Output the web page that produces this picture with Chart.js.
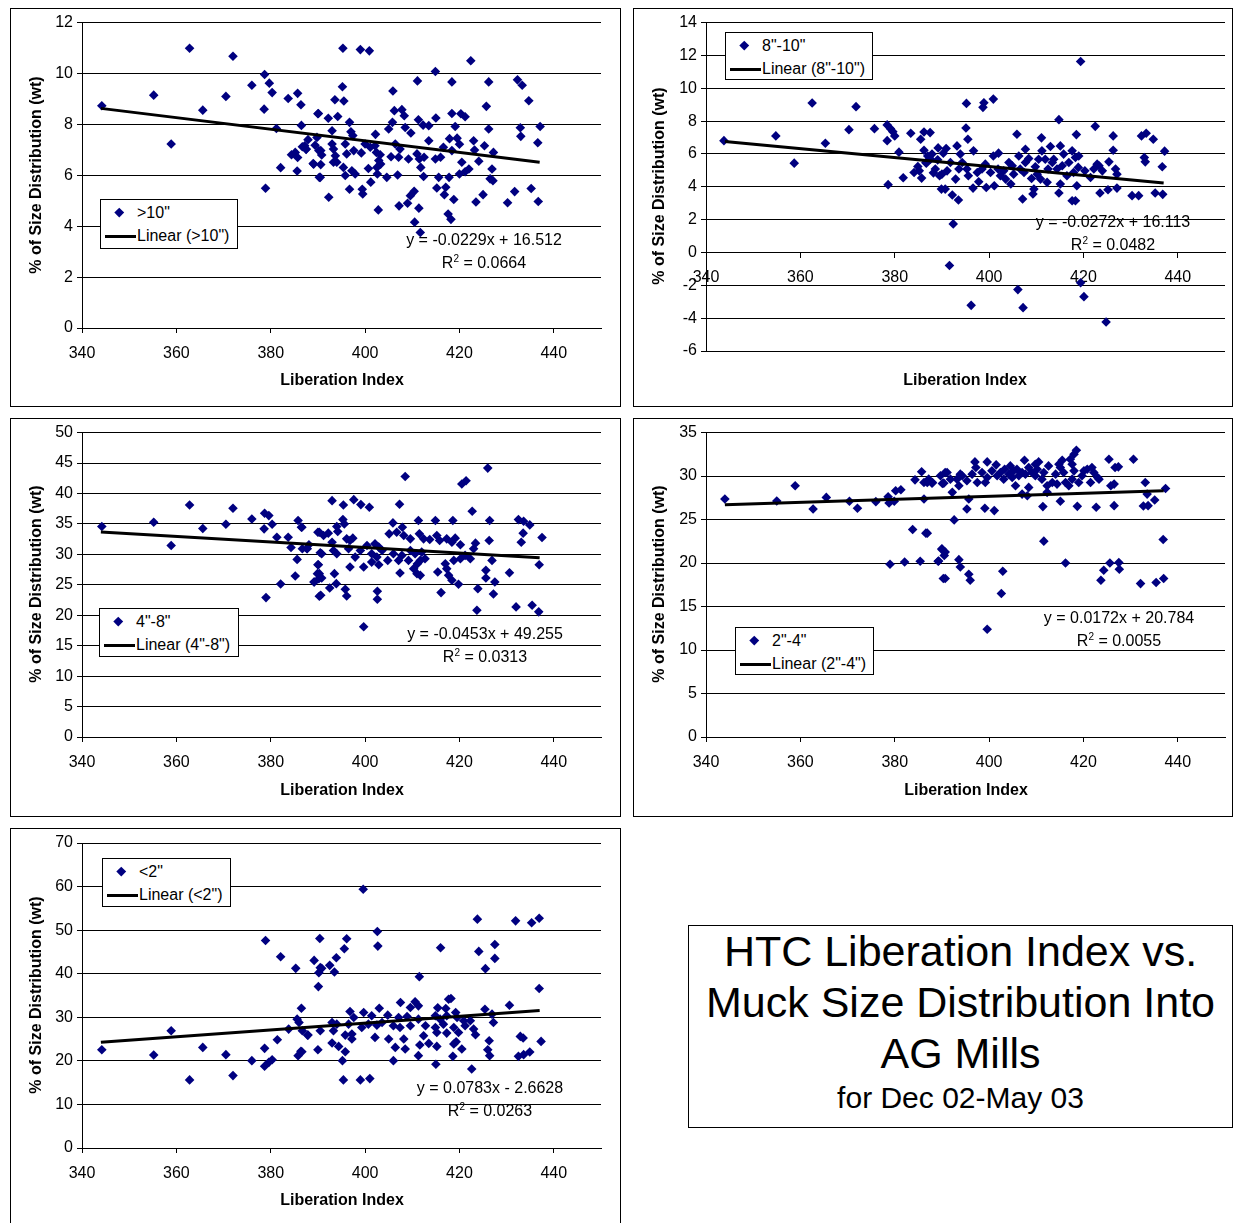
<!DOCTYPE html>
<html>
<head>
<meta charset="utf-8">
<script src="https://cdn.jsdelivr.net/npm/chart.js@4/dist/chart.umd.min.js"></script>
<style>
  body { margin: 0; width: 1233px; height: 1223px; background: #fff; position: relative; overflow: hidden;
         font-family: "Liberation Sans", Arial, sans-serif; color: #000; }
  .panel { position: absolute; border: 1px solid #000; }
  .panel canvas { display: block; }
  .xtitle, .ytitle { position: absolute; font-weight: bold; font-size: 16px; white-space: nowrap; }
  .xtitle { transform: translate(-50%, -50%); }
  .ytitle { transform: translate(-50%, -50%) rotate(-90deg); }
  .eq { position: absolute; transform: translateX(-50%); text-align: center; font-size: 16px;
        line-height: 23px; white-space: nowrap; }
  .eq sup { font-size: 10px; line-height: 0; vertical-align: 6px; }
  .legend { position: absolute; border: 1px solid #000; background: #fff; font-size: 16px; box-sizing: border-box; }
  .legend .row { position: relative; height: 23px; line-height: 23px; padding-left: 36px; white-space: nowrap; }
  .legend .row:first-child { margin-top: 1px; }
  .legend .dot { position: absolute; left: 15px; top: 8px; width: 6.5px; height: 6.5px; background: #000080; transform: rotate(45deg); }
  .legend .line { position: absolute; left: 4px; top: 11px; width: 31px; height: 3px; background: #000; }
  .titlebox { position: absolute; left: 688px; top: 925px; width: 543px; height: 201px; border: 1px solid #000; text-align: center; }
  .titlebox .big { font-size: 43px; line-height: 51px; }
  .titlebox .small { font-size: 30px; line-height: 38px; }
</style>
</head>
<body>

<div class="panel" style="left:10px;top:8px;"><canvas id="c1" width="609" height="397"></canvas></div>
<div class="panel" style="left:633px;top:8px;"><canvas id="c2" width="598" height="397"></canvas></div>
<div class="panel" style="left:10px;top:418px;"><canvas id="c3" width="609" height="397"></canvas></div>
<div class="panel" style="left:633px;top:418px;"><canvas id="c4" width="598" height="397"></canvas></div>
<div class="panel" style="left:10px;top:828px;"><canvas id="c5" width="609" height="397"></canvas></div>

<div class="xtitle" style="left:342px;top:380px;">Liberation Index</div>
<div class="xtitle" style="left:965px;top:380px;">Liberation Index</div>
<div class="xtitle" style="left:342px;top:790px;">Liberation Index</div>
<div class="xtitle" style="left:966px;top:790px;">Liberation Index</div>
<div class="xtitle" style="left:342px;top:1200px;">Liberation Index</div>

<div class="ytitle" style="left:36px;top:175px;">% of Size Distribution (wt)</div>
<div class="ytitle" style="left:659px;top:186px;">% of Size Distribution (wt)</div>
<div class="ytitle" style="left:36px;top:584px;">% of Size Distribution (wt)</div>
<div class="ytitle" style="left:659px;top:584px;">% of Size Distribution (wt)</div>
<div class="ytitle" style="left:36px;top:995px;">% of Size Distribution (wt)</div>

<div class="legend" style="left:100px;top:199px;width:138px;height:50px;">
  <div class="row"><span class="dot"></span>&gt;10"</div>
  <div class="row"><span class="line"></span>Linear (&gt;10")</div>
</div>
<div class="legend" style="left:725px;top:32px;width:148px;height:48px;">
  <div class="row"><span class="dot"></span>8"-10"</div>
  <div class="row"><span class="line"></span>Linear (8"-10")</div>
</div>
<div class="legend" style="left:99px;top:608px;width:140px;height:49px;">
  <div class="row"><span class="dot"></span>4"-8"</div>
  <div class="row"><span class="line"></span>Linear (4"-8")</div>
</div>
<div class="legend" style="left:735px;top:627px;width:139px;height:48px;">
  <div class="row"><span class="dot"></span>2"-4"</div>
  <div class="row"><span class="line"></span>Linear (2"-4")</div>
</div>
<div class="legend" style="left:102px;top:858px;width:129px;height:49px;">
  <div class="row"><span class="dot"></span>&lt;2"</div>
  <div class="row"><span class="line"></span>Linear (&lt;2")</div>
</div>

<div class="eq" style="left:484px;top:228px;">y = -0.0229x + 16.512<br>R<sup>2</sup> = 0.0664</div>
<div class="eq" style="left:1113px;top:210px;">y = -0.0272x + 16.113<br>R<sup>2</sup> = 0.0482</div>
<div class="eq" style="left:485px;top:622px;">y = -0.0453x + 49.255<br>R<sup>2</sup> = 0.0313</div>
<div class="eq" style="left:1119px;top:606px;">y = 0.0172x + 20.784<br>R<sup>2</sup> = 0.0055</div>
<div class="eq" style="left:490px;top:1076px;">y = 0.0783x - 2.6628<br>R<sup>2</sup> = 0.0263</div>

<div class="titlebox">
  <div class="big">HTC Liberation Index vs.</div>
  <div class="big">Muck Size Distribution Into</div>
  <div class="big">AG Mills</div>
  <div class="small">for Dec 02-May 03</div>
</div>

<script>
// x axis (Liberation Index)
const xTicks = [340, 360, 380, 400, 420, 440];
const xMax = 450;
const trendX = [344, 437];

// >10"
const gt10Ticks = [0, 2, 4, 6, 8, 10, 12];
const gt10Trend = [8.63, 6.51];
const gt10Points = [
  [344.2,8.73],[355.2,9.15],[358.9,7.23],[362.8,10.99],[365.6,8.56],[370.5,9.1],[372.0,10.68],[376.0,9.54],
  [378.7,9.96],[379.7,9.62],[380.3,9.25],[378.6,8.6],[378.9,5.49],[381.2,7.84],[382.1,6.3],[383.7,9.02],
  [384.4,6.81],[385.2,6.9],[385.7,9.22],[385.7,6.7],[385.6,6.17],[386.4,8.77],[386.5,7.96],[386.7,7.12],
  [387.5,7.03],[387.9,7.4],[389.0,6.46],[390.0,8.42],[389.8,7.49],[390.2,6.97],[390.3,5.92],
  [395.3,10.99],[399.0,10.94],[400.9,10.89],[422.4,10.5],[414.9,10.08],[411.1,9.71],[418.4,9.67],[426.2,9.67],
  [432.3,9.75],[433.3,9.54],[434.7,8.93],[425.7,8.71],[395.2,9.48],[393.6,8.97],[395.5,8.92],[405.9,9.31],
  [390.1,8.43],[392.2,8.24],[394.2,8.31],[396.7,8.08],[406.2,8.54],[407.8,8.58],[408.3,8.34],[405.8,8.08],
  [411.3,8.18],[412.3,7.97],[413.5,7.95],[415.0,8.25],[418.4,8.43],[420.3,8.42],[421.2,8.3],[419.1,7.92],
  [426.2,7.82],[432.9,7.87],[437.1,7.92],[433.0,7.53],[436.6,7.28],[393.0,7.75],[397.0,7.71],[397.4,7.56],
  [402.2,7.61],[405.0,7.82],[408.5,7.88],[409.7,7.66],[413.5,7.36],[417.9,7.44],[419.5,7.46],[420.0,7.22],
  [423.0,7.36],[425.3,7.16],[423.2,6.99],[427.2,6.9],[387.2,7.16],[387.5,7.02],[389.4,7.18],[390.6,6.97],
  [390.8,6.8],[393.0,7.23],[393.3,7.03],[393.7,6.77],[393.3,6.51],[394.0,6.51],[389.1,6.44],[390.6,6.42],
  [390.5,5.92],[395.4,6.31],[396.1,6.84],[395.8,7.23],[397.6,6.97],[399.2,6.88],[400.0,7.23],[401.1,7.1],
  [402.1,7.16],[403.2,6.81],[402.4,6.9],[402.9,6.58],[403.3,6.44],[402.5,6.31],[400.7,6.27],[397.2,6.18],
  [397.9,6.05],[395.8,5.99],[404.6,5.92],[402.6,6.05],[401.2,5.73],[405.5,6.73],[407.1,6.71],[406.4,7.23],
  [407.4,7.03],[409.2,6.64],[411.0,6.84],[411.5,6.64],[412.5,6.71],[411.8,6.31],[412.4,5.95],[406.9,6.01],
  [414.9,6.64],[416.0,6.71],[416.6,7.1],[418.4,6.97],[420.5,6.51],[422.0,6.25],[421.2,6.14],[420.0,6.05],
  [424.1,6.55],[426.9,6.25],[426.5,5.86],[427.1,5.79],[415.6,5.92],[417.8,5.92],[415.2,5.5],[417.1,5.53],
  [416.8,5.24],[418.8,5.05],[425.0,5.24],[423.5,4.95],[430.2,4.92],[431.7,5.36],[435.2,5.48],[436.7,4.97],
  [392.3,5.14],[396.7,5.45],[399.4,5.45],[399.5,5.27],[402.8,4.64],[407.2,4.8],[409.0,4.9],[409.6,5.2],
  [410.4,5.37],[411.4,4.71],[410.5,4.16],[411.7,3.75],[417.6,4.48],[418.2,4.27]
];

// 8"-10"
const r8to10Ticks = [-6, -4, -2, 0, 2, 4, 6, 8, 10, 12, 14];
const r8to10Trend = [6.76, 4.23];
const r8to10Points = [
  [343.8,6.81],[354.8,7.1],[358.7,5.44],[362.5,9.1],[365.3,6.65],[370.3,7.48],[371.8,8.88],[375.7,7.54],
  [378.4,7.77],[379.1,7.54],[379.6,7.36],[380.0,7.1],[378.4,6.81],[378.6,4.13],[380.9,6.11],[381.8,4.55],
  [383.4,7.26],[384.1,4.87],[384.9,5.24],[385.5,6.9],[386.2,7.34],[386.2,6.23],[386.6,5.48],[385.7,4.53],
  [385.2,4.97],[387.0,5.88],[386.7,5.44],[388.2,4.85],[389.2,6.37],[389.1,5.64],[389.5,4.67],[389.9,3.86],
  [419.4,11.63],[395.2,9.08],[398.9,9.12],[398.7,8.84],[400.9,9.34],[395.1,7.58],[395.5,6.9],[414.8,8.09],
  [422.5,7.68],[405.9,7.2],[411.1,6.98],[418.5,7.18],[426.3,7.1],[426.3,6.23],[432.3,7.1],[433.3,7.26],
  [434.8,6.9],[437.2,6.17],[432.9,5.78],[433.1,5.52],[436.7,5.22],[425.4,5.52],[426.8,5.08],[427.1,4.77],
  [427.1,3.92],[425.2,3.82],[423.5,3.62],[430.3,3.46],[431.7,3.46],[435.2,3.62],[436.8,3.54],[392.4,1.74],
  [391.6,-0.79],[396.2,-3.22],[406.1,-2.26],[407.2,-3.36],[419.4,-1.84],[420.1,-2.69],[424.8,-4.23],
  [393.2,6.49],[390.9,6.33],[387.5,7.3],[390.7,3.86],[392.2,3.5],[393.5,3.2],[392.9,4.47],[393.6,5.08],
  [393.9,5.99],[396.7,6.19],[396.6,3.92],[397.8,4.31],[399.4,3.96],[399.2,5.38],[400.9,5.88],[402.0,6.05],
  [401.9,5.08],[402.4,4.67],[403.5,4.47],[404.6,4.17],[401.1,4.06],[404.9,5.28],[406.3,5.88],[407.7,6.29],
  [408.4,5.72],[407.4,4.87],[409.0,4.51],[409.5,3.86],[409.3,3.56],[407.1,3.26],[409.8,5.22],[411.2,6.19],
  [411.9,5.68],[413.0,6.45],[413.7,5.68],[412.3,4.27],[410.9,4.47],[415.1,6.49],[415.8,5.99],[415.5,5.28],
  [415.1,4.17],[414.8,3.62],[417.6,6.19],[418.3,5.78],[419.0,5.88],[417.9,4.87],[418.6,4.06],[417.6,3.15],
  [418.3,3.15],[420.3,4.97],[421.5,4.57],[423.3,5.28],[424.0,4.97],[387.6,5.68],[388.6,5.08],[390.0,4.77],
  [391.1,4.97],[391.8,5.48],[394.3,5.48],[395.3,5.08],[395.6,4.67],[397.5,4.87],[398.5,5.08],[400.3,4.87],
  [403.1,4.97],[404.2,5.48],[405.2,4.77],[406.6,5.08],[407.7,5.48],[410.2,4.77],[410.5,5.68],[412.5,5.08],
  [413.4,5.48],[414.4,5.08],[416.5,4.67],[416.9,5.48],[418.9,5.18],[422.2,5.08],[422.9,5.38],[387.9,5.99],
  [390.3,6.05]
];

// 4"-8"
const r4to8Ticks = [0, 5, 10, 15, 20, 25, 30, 35, 40, 45, 50];
const r4to8Trend = [33.67, 29.46];
const r4to8Points = [
  [344.2,34.57],[355.2,35.28],[358.9,31.46],[362.8,38.11],[365.6,34.24],[370.5,34.95],[372.0,37.57],[376.0,35.82],
  [378.7,36.75],[379.6,36.37],[380.3,34.95],[378.6,34.19],[379.0,22.9],[381.3,32.82],[382.1,25.14],[383.7,32.82],
  [384.3,31.13],[385.2,26.44],[385.6,29.17],[385.8,35.55],[386.5,34.46],[386.7,30.92],[387.7,30.92],[388.1,31.57],
  [389.2,25.46],[390.0,33.64],[390.0,28.3],[389.9,26.83],[390.2,26.01],[390.3,23.12],[390.8,30.1],
  [426.0,44.17],[408.5,42.8],[420.5,41.55],[421.4,42.09],[393.0,38.82],[395.4,38.11],[397.6,38.99],[399.1,38.17],
  [400.9,37.73],[407.3,38.22],[422.7,37.08],[395.3,35.71],[395.6,35.0],[394.0,34.57],[390.3,33.64],[391.2,33.1],
  [392.2,33.48],[394.2,33.75],[386.6,34.46],[405.9,35.17],[407.9,34.46],[411.3,35.55],[414.9,35.55],[418.6,35.55],
  [426.4,35.55],[432.5,35.71],[433.6,35.44],[434.9,34.84],[433.5,33.48],[437.5,32.77],[433.1,32.0],[426.3,32.28],
  [405.1,33.37],[406.7,33.64],[408.2,33.1],[409.6,32.55],[411.5,33.37],[412.4,32.55],[413.7,32.44],[415.2,33.1],
  [415.8,32.28],[417.3,32.55],[418.4,32.0],[419.1,32.66],[420.2,31.57],[423.4,31.84],[423.0,30.92],[396.1,32.55],
  [396.8,32.28],[397.4,32.66],[393.0,32.0],[393.3,30.64],[394.0,30.1],[387.7,30.92],[396.5,30.92],[397.9,29.55],
  [399.0,30.64],[400.4,31.46],[402.1,31.73],[402.9,31.19],[403.6,30.64],[401.4,30.1],[402.5,29.55],[404.8,29.01],
  [406.0,30.1],[407.1,29.01],[407.8,29.83],[409.2,29.01],[409.6,30.64],[410.6,30.1],[412.0,30.37],[411.7,29.01],
  [412.7,29.28],[411.1,28.46],[410.3,27.65],[411.0,26.83],[411.7,26.55],[407.4,26.94],[401.4,28.73],[402.9,28.3],
  [399.7,27.92],[396.8,27.92],[390.5,30.26],[390.1,28.3],[390.3,26.83],[390.8,26.12],[389.2,25.46],[393.5,26.83],
  [393.9,25.19],[392.5,24.48],[390.6,23.28],[395.8,24.26],[396.1,23.17],[402.6,23.94],[402.6,22.63],[399.7,18.1],
  [415.4,27.1],[416.1,23.72],[417.0,28.46],[417.3,27.65],[417.7,26.55],[418.4,25.74],[419.8,25.08],[418.8,29.01],
  [420.2,29.28],[421.2,29.83],[422.3,29.28],[423.9,24.37],[423.7,20.83],[425.6,27.37],[425.6,26.12],[426.9,29.01],
  [427.5,25.46],[427.2,23.5],[430.6,26.99],[432.0,21.37],[435.4,21.65],[436.8,20.56],[436.9,28.3]
];

// 2"-4"
const r2to4Ticks = [0, 5, 10, 15, 20, 25, 30, 35];
const r2to4Trend = [26.7, 28.3];
const r2to4Points = [
  [344.0,27.36],[355.0,27.13],[358.9,28.89],[362.7,26.22],[365.5,27.55],[370.4,27.1],[372.1,26.3],[376.0,27.06],
  [378.6,27.63],[378.8,26.91],[379.9,27.1],[380.2,28.32],[381.3,28.43],[379.0,19.86],[382.1,20.12],[383.8,23.86],
  [385.4,20.2],[386.6,23.44],[384.3,29.57],[385.7,30.49],[386.2,29.27],[386.9,29.27],[388.0,29.27],[386.2,27.36],
  [389.2,20.2],[390.0,21.65],[390.3,18.22],[390.1,29.15],[390.7,30.41],[390.5,20.88],
  [418.5,32.97],[430.6,31.94],[425.4,31.94],[426.7,30.98],[427.4,31.06],[407.5,31.82],[399.6,31.63],[397.0,31.63],
  [410.5,31.63],[415.5,31.82],[417.2,31.94],[401.5,31.29],[397.2,30.98],[412.6,31.17],[415.1,30.98],[420.8,30.79],
  [421.8,30.98],[403.3,30.79],[405.2,30.6],[407.0,30.41],[409.1,30.41],[393.9,30.22],[391.1,30.41],
  [387.9,29.19],[390.4,29.19],[393.2,29.65],[395.3,29.46],[397.5,29.27],[399.6,29.84],[401.7,30.03],[403.1,29.65],
  [404.9,29.84],[406.3,30.03],[407.7,30.22],[409.8,30.03],[411.2,29.65],[413.4,29.27],[414.4,29.08],[416.2,29.27],
  [417.6,29.65],[419.0,29.27],[419.7,30.03],[421.5,29.27],[423.3,29.65],[425.8,28.89],[426.5,29.08],[433.1,29.27],
  [433.5,27.93],[437.4,28.58],[387.2,29.65],[389.7,30.03],[391.8,29.65],[394.3,30.03],[396.4,30.22],[398.5,30.41],
  [400.6,30.6],[402.4,30.41],[404.2,30.22],[405.9,30.79],[408.4,30.98],[410.2,30.79],[411.6,30.41],[414.1,30.22],
  [415.8,30.41],[418.0,30.6],[420.1,30.6],[422.2,30.41],[423.0,29.84],[409.8,31.36],[404.5,31.17],[417.6,31.36],
  [418.0,32.51],[414.8,31.36],[399.2,29.27],[408.4,28.7],[393.6,28.89],[412.3,28.89],[416.9,28.89],
  [392.2,28.13],[395.7,27.36],[395.3,26.22],[399.1,26.3],[401.1,26.03],[405.6,28.89],[407.0,27.93],[408.1,27.74],
  [411.4,26.49],[412.3,28.13],[415.1,27.1],[418.7,26.52],[422.7,26.41],[426.5,26.6],[432.7,26.56],[433.7,26.6],
  [435.1,27.25],[392.6,24.96],[386.9,23.44],[411.6,22.52],[436.9,22.71],[390.0,21.57],[390.7,21.27],[389.3,20.24],
  [393.6,20.39],[393.9,19.55],[395.7,18.71],[396.0,18.03],[390.7,18.22],[402.9,19.05],[402.6,16.5],[399.6,12.39],
  [416.2,20.01],[424.3,19.17],[423.7,18.03],[425.6,20.01],[427.5,20.05],[427.6,19.28],[432.1,17.64],[435.4,17.76],
  [437.0,18.22]
];

// <2"
const lt2Ticks = [0, 10, 20, 30, 40, 50, 60, 70];
const lt2Trend = [24.27, 31.55];
const lt2Points = [
  [344.2,22.56],[355.2,21.34],[358.9,26.91],[362.8,15.63],[365.6,23.09],[370.5,21.42],[372.0,16.62],[376.0,20.05],
  [378.7,22.87],[378.9,47.64],[378.7,18.75],[379.6,19.66],[380.3,20.27],[381.4,24.85],[382.1,43.9],[383.8,27.29],
  [385.3,41.23],[385.6,29.57],[386.0,28.81],[386.5,32.09],[386.7,26.91],[387.9,25.91],[385.8,21.19],[386.4,22.18],
  [389.2,43.06],[390.1,37.04],[390.2,40.24],[390.4,48.09],[390.0,22.56],[390.5,41.39],[390.5,26.91],
  [399.6,59.37],[423.8,52.52],[431.9,52.13],[435.3,51.68],[436.9,52.74],[402.6,49.7],[402.7,46.34],[396.1,48.02],
  [395.6,45.73],[393.9,43.67],[392.5,41.92],[390.8,41.23],[393.5,40.4],[416.0,45.96],[424.1,45.12],[427.5,46.72],
  [427.5,43.52],[425.5,41.16],[411.5,39.33],[436.9,36.59],
  [418.2,34.3],[417.7,34.15],[407.5,33.38],[410.6,33.54],[411.3,32.62],[409.6,32.24],[403.0,32.09],[396.8,31.33],
  [399.7,31.1],[415.4,32.16],[417.1,32.01],[419.2,31.1],[425.4,31.86],[430.6,32.77],[426.9,30.72],[427.2,28.81],
  [397.6,29.95],[401.4,30.34],[404.8,30.49],[407.1,29.95],[408.9,30.18],[411.3,29.57],[414.9,30.34],[415.9,29.57],
  [417.3,30.34],[419.5,29.95],[420.9,29.19],[422.3,29.19],[393.0,28.81],[394.0,28.43],[396.5,28.43],[399.3,27.67],
  [400.7,28.43],[402.5,28.2],[403.6,28.81],[406.0,28.05],[407.4,27.67],[409.6,28.05],[412.8,28.05],[414.9,27.67],
  [416.6,28.43],[418.8,27.67],[421.2,28.05],[387.8,25.91],[393.3,26.91],[395.8,25.91],[397.2,26.14],[402.1,25.38],
  [405.0,25.0],[408.2,25.0],[412.4,25.76],[415.2,26.52],[417.3,26.37],[419.8,26.52],[423.0,27.29],[423.4,25.99],
  [432.9,25.61],[433.5,25.23],[437.3,24.47],[393.0,24.09],[394.4,23.32],[397.2,25.0],[406.4,23.09],[408.5,22.71],
  [411.6,23.63],[413.5,24.01],[415.2,23.32],[418.8,23.86],[419.3,24.39],[420.5,22.71],[426.3,24.62],[426.0,22.56],
  [386.6,22.1],[395.8,22.1],[411.3,21.19],[418.6,21.04],[426.4,21.19],[432.5,21.04],[433.6,21.42],[434.9,22.03],
  [406.0,20.05],[395.2,20.05],[415.0,19.21],[422.6,18.14],[395.4,15.63],[399.0,15.63],[401.0,15.93]
];

Chart.defaults.font.family = '"Liberation Sans", Arial, sans-serif';
Chart.defaults.color = "#000";

function buildChart(canvasId, points, trend, yTicks, frame) {
  const tickFont = { size: 16 };
  return new Chart(document.getElementById(canvasId), {
    type: "scatter",
    data: {
      datasets: [
        {
          data: trendX.map((x, i) => ({ x, y: trend[i] })),
          showLine: true,
          borderColor: "#000",
          borderWidth: 3,
          pointRadius: 0,
          order: 0,
        },
        {
          data: points.map(([x, y]) => ({ x, y })),
          pointStyle: "rectRot",
          pointRadius: 4.8,
          backgroundColor: "#000080",
          borderColor: "#000080",
          borderWidth: 0,
          order: 1,
        },
      ],
    },
    options: {
      responsive: false,
      animation: false,
      events: [],
      layout: { padding: { top: frame.top, right: frame.right, bottom: frame.bottom || 0, left: 0 } },
      plugins: { legend: { display: false }, tooltip: { enabled: false } },
      scales: {
        x: {
          type: "linear",
          min: xTicks[0],
          max: xMax,
          position: frame.axisAtZero ? { y: 0 } : "bottom",
          afterBuildTicks: (scale) => { scale.ticks = xTicks.map((value) => ({ value })); },
          afterFit: (scale) => { if (!frame.axisAtZero) scale.height = frame.xHeight; },
          grid: { drawOnChartArea: false, color: "#000", tickLength: 5 },
          border: { color: "#000", width: 1 },
          ticks: { font: tickFont, padding: 11, maxRotation: 0, color: "#000" },
        },
        y: {
          type: "linear",
          min: yTicks[0],
          max: yTicks[yTicks.length - 1],
          afterBuildTicks: (scale) => { scale.ticks = yTicks.map((value) => ({ value })); },
          afterFit: (scale) => { scale.width = frame.yWidth; },
          grid: { color: "#000", tickLength: 5 },
          border: { color: "#000", width: 1 },
          ticks: { font: tickFont, padding: 4, color: "#000" },
        },
      },
    },
  });
}

buildChart("c1", gt10Points, gt10Trend, gt10Ticks, { top: 13, right: 19, xHeight: 78, yWidth: 71 });
buildChart("c2", r8to10Points, r8to10Trend, r8to10Ticks, { top: 13, right: 7, bottom: 55, yWidth: 72, axisAtZero: true });
buildChart("c3", r4to8Points, r4to8Trend, r4to8Ticks, { top: 13, right: 19, xHeight: 79, yWidth: 71 });
buildChart("c4", r2to4Points, r2to4Trend, r2to4Ticks, { top: 13, right: 7, xHeight: 79, yWidth: 72 });
buildChart("c5", lt2Points, lt2Trend, lt2Ticks, { top: 14, right: 19, xHeight: 78, yWidth: 71 });
</script>
</body>
</html>
